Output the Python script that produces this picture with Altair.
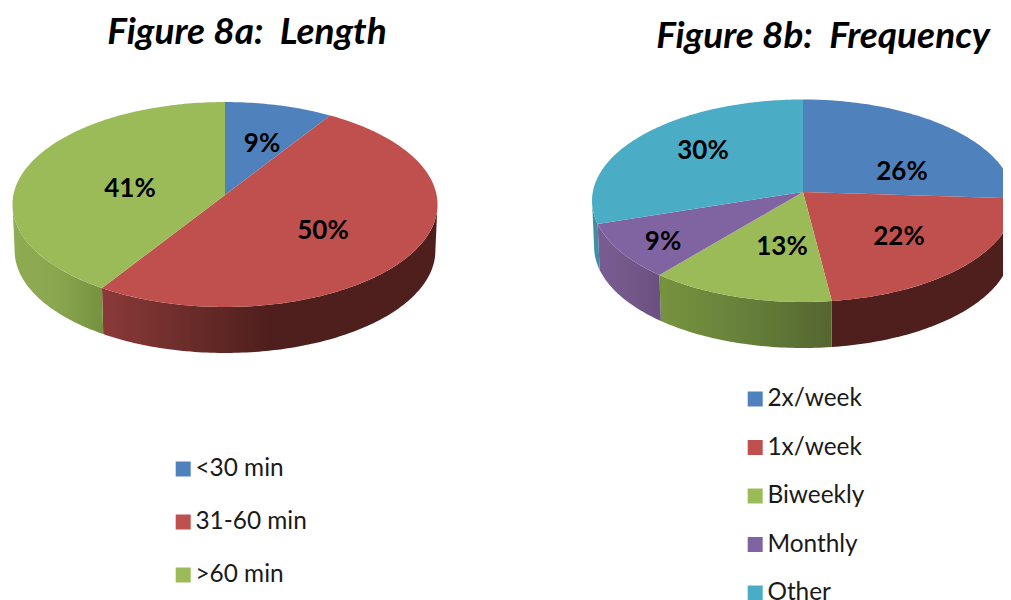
import math
import altair as alt

# ---------- values ----------
LENGTH_LABELS = ["<30 min", "31-60 min", ">60 min"]
LENGTH_VALUES = [9, 50, 41]
FREQ_LABELS = ["2x/week", "1x/week", "Biweekly", "Monthly", "Other"]
FREQ_VALUES = [26, 22, 13, 9, 30]
TITLE_A = "Figure 8a:\u00a0\u00a0Length"
TITLE_B = "Figure 8b:\u00a0\u00a0Frequency"

# ---------- styles and layout (image pixels) ----------
FONT = "Lato"
COLORS = ["#4F81BD", "#C0504D", "#9BBB59", "#8064A2", "#4BACC6"]
WALL_A = [None, ["#8a3a38", "#4e1f1d", "#4e1f1d"], ["#8fac52", "#8aa64f", "#76913f"]]
WALL_B = [["#3a5f8c"] * 3, ["#4e1f1d"] * 3, ["#78933f", "#66803a", "#556630"],
          ["#7a5c94", "#735889", "#6a4f80"], ["#3f8ea3"] * 3]
PIE_A = dict(cx=225, cy=195, a=101.6, b=211.6, k=0.0927, depth=46)
PIE_B = dict(cx=803, cy=192, a=100.5, b=210.2, k=0.0864, depth=46)
LABEL_XY_A = [(262, 144), (323, 231), (130, 189)]
LABEL_XY_B = [(902, 172), (899, 237), (782, 247), (663, 242), (703, 151)]
OFFSET = 8
PROJ = dict(type="identity", scale=1, translate=[-OFFSET, -OFFSET])


def project(p, deg):
    t = math.radians(deg)
    u, v = math.sin(t), math.cos(t)
    w = 1 + p["k"] * v
    return p["cx"] + p["b"] * u / w, p["cy"] - p["a"] * v / w


def arc(p, d0, d1):
    n = max(2, int(abs(d1 - d0)) + 2)
    return [project(p, d0 + (d1 - d0) * i / (n - 1)) for i in range(n)]


def feature(ring, label):
    ring = [[round(x, 2), round(y, 2)] for x, y in ring]
    ring.append(ring[0])
    return {"type": "Feature", "properties": {"label": label},
            "geometry": {"type": "Polygon", "coordinates": [ring]}}


def collection(features):
    return alt.Data(values={"type": "FeatureCollection", "features": features},
                    format=alt.DataFormat(type="json", property="features"))


def pie_layers(p, labels, values, walls, legend_x, legend_y, row_pad):
    layers = []
    spans, start = [], 0.0
    for v in values:
        spans.append((start, start + v * 3.6))
        start += v * 3.6
    # side walls: only the front part, between the silhouette extremes
    for (d0, d1), label, stops in zip(spans, labels, walls):
        lo, hi = max(d0, 95), min(d1, 265)
        if stops is None or hi <= lo:
            continue
        top = arc(p, lo, hi)
        bottom = [(p["cx"] + (x - p["cx"]) * 0.99, y + p["depth"]) for x, y in top]
        grad = alt.Gradient(gradient="linear", x1=0, x2=1, y1=0, y2=0, stops=[
            alt.GradientStop(offset=0, color=stops[0]),
            alt.GradientStop(offset=0.5, color=stops[1]),
            alt.GradientStop(offset=1, color=stops[2])])
        layers.append(alt.Chart(collection([feature(top + bottom[::-1], label)]))
                      .mark_geoshape(fill=grad, strokeWidth=0)
                      .project(**PROJ))
    # top surface
    feats = [feature([(p["cx"], p["cy"])] + arc(p, d0, d1), label)
             for (d0, d1), label in zip(spans, labels)]
    layers.append(alt.Chart(collection(feats)).mark_geoshape(strokeWidth=0).encode(
        color=alt.Color("properties.label:N", sort=None,
                        scale=alt.Scale(domain=labels, range=COLORS[:len(labels)]),
                        legend=alt.Legend(orient="none", legendX=legend_x - OFFSET,
                                          legendY=legend_y - OFFSET, title=None,
                                          symbolType="square", symbolSize=225,
                                          symbolStrokeWidth=0, symbolOpacity=1,
                                          labelFont=FONT, labelFontSize=24.4,
                                          labelColor="#1a1a1a", labelOffset=0,
                                          clipHeight=20, rowPadding=row_pad,
                                          labelLimit=300))
    ).project(**PROJ))
    return layers


def text_layer(text, x, y, size, italic=False):
    return alt.Chart(alt.Data(values=[{"t": text, "x": x - OFFSET, "y": y - OFFSET}])).mark_text(
        font=FONT, fontSize=size, fontWeight="bold",
        fontStyle="italic" if italic else "normal",
        color="#000000", align="center", baseline="middle"
    ).encode(x=alt.X("x:Q", scale=None), y=alt.Y("y:Q", scale=None), text="t:N")


layers = []
layers += pie_layers(PIE_A, LENGTH_LABELS, LENGTH_VALUES, WALL_A, 171, 459, 28)
layers += pie_layers(PIE_B, FREQ_LABELS, FREQ_VALUES, WALL_B, 743, 389, 23.5)
for v, (x, y) in zip(LENGTH_VALUES, LABEL_XY_A):
    layers.append(text_layer(f"{v}%", x, y, 26))
for v, (x, y) in zip(FREQ_VALUES, LABEL_XY_B):
    layers.append(text_layer(f"{v}%", x, y, 26))
layers.append(text_layer(TITLE_A, 247, 33, 37, italic=True))
layers.append(text_layer(TITLE_B, 823, 37, 37, italic=True))

chart = alt.layer(*layers).resolve_scale(color="independent").properties(
    width=995, height=592, padding=0,
    autosize=alt.AutoSizeParams(type="none", contains="content"),
    background="white",
).configure_view(stroke=None)

chart.save("out.html", embed_options={"renderer": "svg", "actions": False})
